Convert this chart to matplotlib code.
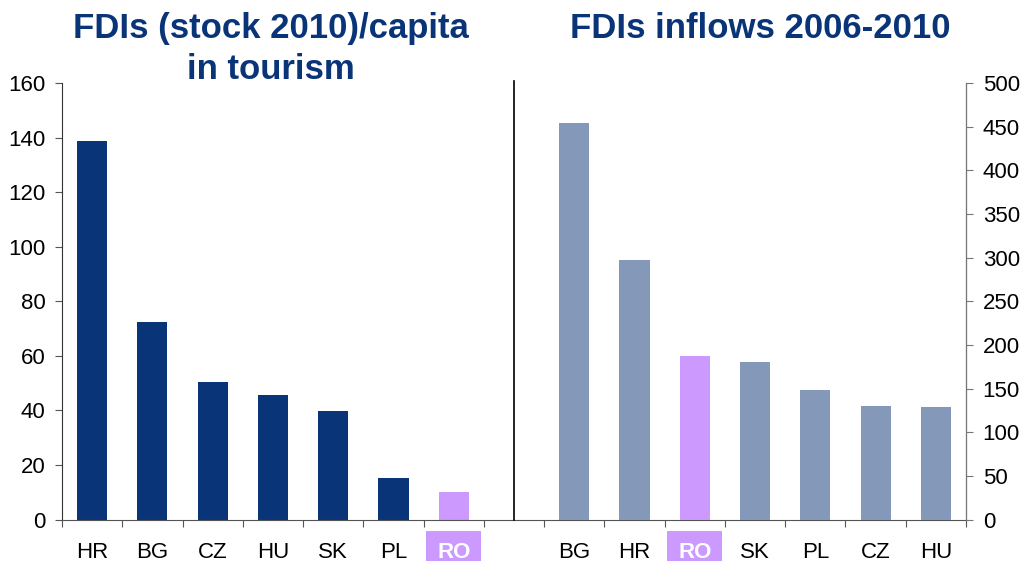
import numpy as np
import matplotlib
matplotlib.use("Agg")
from matplotlib import pyplot as plt

# datos
paises_stock = ["HR", "BG", "CZ", "HU", "SK", "PL", "RO"]
stock_per_capita = [138.6, 72.3, 50.4, 45.6, 39.7, 15.2, 10.1]

paises_flujo = ["BG", "HR", "RO", "SK", "PL", "CZ", "HU"]
flujos_2006_2010 = [454, 297, 187, 180, 148, 130, 129]

azul_oscuro = "#0A3478"
azul_claro = "#8499BA"
lila = "#CC99FF"

plt.rcParams['font.family'] = ['Liberation Sans', 'DejaVu Sans']

fig = plt.figure(figsize=(10.25, 5.61), dpi=100)
ax = fig.add_axes([62 / 1025, 1 - 519.5 / 561, (966 - 62) / 1025, (519.5 - 83) / 561])
ax2 = ax.twinx()

n_izq = len(paises_stock)
x_izq = np.arange(n_izq)
x_der = np.arange(len(paises_flujo)) + n_izq + 1

col_izq = [lila if p == "RO" else azul_oscuro for p in paises_stock]
col_der = [lila if p == "RO" else azul_claro for p in paises_flujo]

ax.bar(x_izq, stock_per_capita, width=0.5, color=col_izq, zorder=2)
ax2.bar(x_der, flujos_2006_2010, width=0.5, color=col_der, zorder=2)

total = n_izq + 1 + len(paises_flujo)
ax.set_xlim(-0.5, total - 0.5)
ax.set_ylim(0, 160)
ax2.set_ylim(0, 500)
ax.set_yticks(np.arange(0, 161, 20))
ax2.set_yticks(np.arange(0, 501, 50))

# separador entre los dos paneles
ax.axvline(n_izq, ymin=0, ymax=1.005, color="black", lw=1.2, clip_on=False, zorder=3)

# ticks en los limites de categoria, etiquetas en el centro
ax.set_xticks(np.arange(-0.5, total, 1))
ax.set_xticklabels([])
etiquetas = paises_stock + [""] + paises_flujo
ax.set_xticks(np.arange(total), minor=True)
ax.set_xticklabels(etiquetas, minor=True)
ax.tick_params(axis="x", which="major", direction="out", length=5, color="#555555")
ax.tick_params(axis="x", which="minor", length=0, pad=16, labelsize=16)
ax.tick_params(axis="y", direction="out", length=5, color="#555555", labelsize=16, pad=7)
ax2.tick_params(axis="y", direction="out", length=5, color="#777777", labelsize=16, pad=7)

for lab in ax.get_xticklabels(minor=True):
    if lab.get_text() == "RO":
        lab.set_color("white")
        lab.set_fontweight("bold")
        lab.set_bbox(dict(facecolor=lila, edgecolor="none", boxstyle="square,pad=0.48"))

for a in (ax, ax2):
    a.spines["top"].set_visible(False)
ax.spines["left"].set_color("#333333")
ax.spines["bottom"].set_color("#555555")
ax2.spines["right"].set_color("#777777")
ax2.spines["left"].set_visible(False)
ax2.spines["bottom"].set_visible(False)

fig.text(271 / 1025, 1 - 12 / 561, "FDIs (stock 2010)/capita\nin tourism", ha="center", va="top",
         fontsize=25, fontweight="bold", color=azul_oscuro, linespacing=1.3)
fig.text(760 / 1025, 1 - 28 / 561, "FDIs inflows 2006-2010", ha="center", va="center",
         fontsize=25, fontweight="bold", color=azul_oscuro)

plt.savefig("out.png", dpi=100)
